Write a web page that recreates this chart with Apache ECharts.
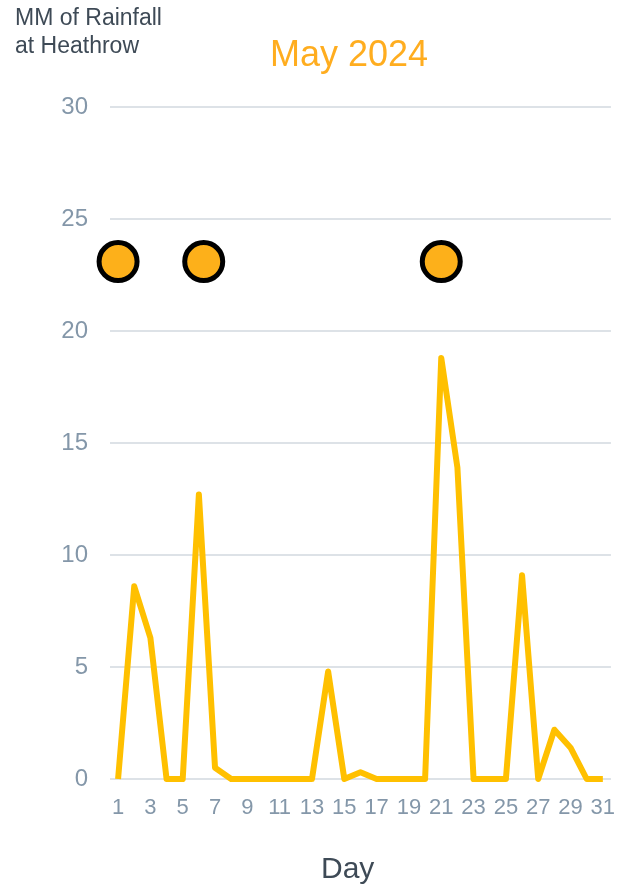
<!DOCTYPE html>
<html>
<head>
<meta charset="utf-8">
<script src="https://cdn.jsdelivr.net/npm/echarts@6/dist/echarts.min.js"></script>
<style>
html,body{margin:0;padding:0;background:#fff;overflow:hidden;}
#chart{width:618px;height:889px;}
</style>
</head>
<body>
<div id="chart"></div>
<script>
const days = ['1','2','3','4','5','6','7','8','9','10','11','12','13','14','15','16','17','18','19','20','21','22','23','24','25','26','27','28','29','30','31'];
const rainfall = [0, 8.6, 6.3, 0, 0, 12.7, 0.5, 0, 0, 0, 0, 0, 0, 4.8, 0, 0.3, 0, 0, 0, 0, 18.8, 13.9, 0, 0, 0, 9.1, 0, 2.2, 1.4, 0, 0];
const markerDays = [1, 6.3, 21];
const markerValue = 23.1;
const yTicks = [0, 5, 10, 15, 20, 25, 30];

const chart = echarts.init(document.getElementById('chart'), null, {renderer: 'canvas'});
const FONT = '"Liberation Sans", Arial, Helvetica, sans-serif';
chart.setOption({
  animation: false,
  backgroundColor: '#ffffff',
  title: {
    text: 'May 2024',
    left: 265,
    top: 33,
    textStyle: {color: '#FFAD1F', fontSize: 36, fontWeight: 'normal', fontFamily: FONT}
  },
  graphic: [
    {type: 'text', left: 15, top: 5, style: {text: 'MM of Rainfall\nat Heathrow', fill: '#3E4A56', fontSize: 23, lineHeight: 28, fontFamily: FONT}},
    {type: 'text', left: 321, top: 855, style: {text: 'Day', fill: '#3E4A56', fontSize: 30, fontFamily: FONT}}
  ],
  grid: {left: 110, right: 2, top: 107, bottom: 110, containLabel: false},
  xAxis: [
    {
      type: 'category',
      data: days,
      boundaryGap: true,
      axisLine: {show: false},
      axisTick: {show: false},
      axisLabel: {interval: 1, color: '#8497A9', fontSize: 22, fontFamily: FONT, margin: 18}
    },
    {
      type: 'value',
      min: 0.5,
      max: 31.5,
      show: false
    }
  ],
  yAxis: {
    type: 'value',
    min: yTicks[0],
    max: yTicks[yTicks.length - 1],
    interval: 5,
    axisLine: {show: false},
    axisTick: {show: false},
    splitLine: {lineStyle: {color: '#DDE2E7', width: 2}},
    axisLabel: {color: '#8497A9', fontSize: 24, fontFamily: FONT, margin: 22}
  },
  series: [
    {
      type: 'line',
      xAxisIndex: 0,
      data: rainfall,
      symbol: 'none',
      lineStyle: {color: '#FFC000', width: 6, join: 'round'},
      z: 2
    },
    {
      type: 'scatter',
      xAxisIndex: 1,
      data: markerDays.map(d => [d, markerValue]),
      symbol: 'circle',
      symbolSize: 38,
      itemStyle: {color: '#FDB01A', borderColor: '#000000', borderWidth: 5, opacity: 1},
      z: 3
    }
  ]
});
</script>
</body>
</html>
